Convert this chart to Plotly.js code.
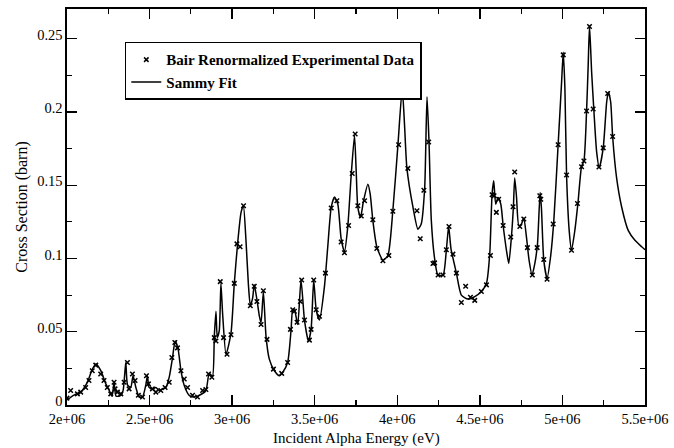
<!DOCTYPE html>
<html>
<head>
<meta charset="utf-8">
<script src="https://cdn.plot.ly/plotly-3.0.1.min.js"></script>
<style>html,body{margin:0;padding:0;background:#fff;}#chart{width:674px;height:448px;}</style>
</head>
<body>
<div id="chart"></div>
<script>
// Sammy fit curve (energy in eV, cross section in barn)
const fitEnergy = [
2000000,2042000,2083000,2123000,2153000,2176000,2204000,2235000,2255000,2273000,
2285000,2297000,2326000,2340000,2356000,2367000,2386000,2400000,2417000,2437000,
2457000,2477000,2487000,2497000,2517000,2538000,2558000,2578000,2599000,2619000,
2639000,2655000,2673000,2690000,2710000,2740000,2770000,2801000,2841000,2861000,
2881000,2892000,2902000,2910000,2922000,2932000,2942000,2963000,2993000,3013000,
3033000,3054000,3068000,3084000,3098000,3110000,3124000,3134000,3150000,3165000,
3175000,3189000,3205000,3225000,3256000,3286000,3306000,3336000,3357000,3367000,
3377000,3397000,3417000,3438000,3462000,3478000,3494000,3509000,3529000,3559000,
3579000,3600000,3620000,3640000,3660000,3680000,3700000,3721000,3741000,3751000,
3761000,3777000,3795000,3822000,3836000,3852000,3876000,3913000,3943000,3973000,
4004000,4030000,4044000,4058000,4095000,4125000,4145000,4166000,4180000,4192000,
4206000,4226000,4246000,4277000,4297000,4311000,4325000,4358000,4388000,4428000,
4469000,4509000,4540000,4560000,4574000,4584000,4596000,4610000,4627000,4641000,
4661000,4675000,4691000,4703000,4711000,4722000,4736000,4752000,4766000,4782000,
4798000,4816000,4833000,4849000,4865000,4873000,4887000,4907000,4928000,4948000,
4974000,4995000,5005000,5015000,5025000,5041000,5055000,5075000,5095000,5116000,
5130000,5146000,5156000,5164000,5177000,5191000,5207000,5223000,5247000,5268000,
5278000,5292000,5304000,5328000,5359000,5399000,5439000,5480000,5500000
];
const fitSigma = [
0.0034,0.0068,0.0088,0.0155,0.0243,0.0280,0.0236,0.0144,0.0101,0.0060,
0.0155,0.0060,0.0066,0.0100,0.0290,0.0135,0.0120,0.0200,0.0120,0.0054,
0.0054,0.0135,0.0200,0.0120,0.0108,0.0120,0.0100,0.0110,0.0120,0.0190,
0.0324,0.0437,0.0380,0.0234,0.0133,0.0066,0.0054,0.0066,0.0099,0.0216,
0.0196,0.0470,0.0640,0.0460,0.0507,0.0830,0.0630,0.0347,0.0490,0.0830,
0.1100,0.1315,0.1360,0.1120,0.0830,0.0680,0.0730,0.0820,0.0720,0.0606,
0.0560,0.0775,0.0470,0.0313,0.0234,0.0200,0.0223,0.0290,0.0516,0.0650,
0.0650,0.0550,0.0853,0.0580,0.0437,0.0516,0.0853,0.0650,0.0580,0.0810,
0.1080,0.1350,0.1420,0.1370,0.1135,0.1045,0.1214,0.1570,0.1840,0.1600,
0.1350,0.1280,0.1390,0.1507,0.1440,0.1260,0.1080,0.0989,0.1020,0.1326,
0.1777,0.2160,0.1910,0.1620,0.1350,0.1200,0.1236,0.1485,0.2104,0.1800,
0.1260,0.1000,0.0887,0.0887,0.1056,0.1218,0.1068,0.0900,0.0750,0.0723,
0.0740,0.0775,0.0830,0.1034,0.1440,0.1530,0.1370,0.1417,0.1370,0.1225,
0.1056,0.0966,0.1147,0.1350,0.1550,0.1420,0.1225,0.1236,0.1277,0.1147,
0.0989,0.0887,0.0966,0.1100,0.1450,0.1340,0.0989,0.0865,0.1010,0.1260,
0.1777,0.2205,0.2408,0.2160,0.1570,0.1190,0.1056,0.1190,0.1390,0.1630,
0.1665,0.2000,0.2320,0.2588,0.2270,0.2000,0.1730,0.1620,0.1755,0.2070,
0.2137,0.2070,0.1833,0.1550,0.1350,0.1190,0.1124,0.1080,0.1060
];
// Bair renormalized experimental data
const expEnergy = [
2000000,2022000,2063000,2083000,2113000,2133000,2153000,2174000,2204000,2224000,
2244000,2265000,2285000,2291000,2305000,2326000,2346000,2366000,2376000,2396000,
2412000,2432000,2457000,2481000,2493000,2517000,2538000,2568000,2594000,2619000,
2635000,2653000,2669000,2690000,2710000,2730000,2760000,2790000,2821000,2841000,
2857000,2877000,2892000,2902000,2928000,2948000,2969000,2993000,3013000,3029000,
3048000,3069000,3110000,3134000,3150000,3175000,3189000,3211000,3250000,3300000,
3336000,3353000,3367000,3377000,3393000,3413000,3421000,3438000,3468000,3478000,
3494000,3509000,3529000,3565000,3600000,3634000,3660000,3680000,3705000,3727000,
3745000,3761000,3782000,3802000,3852000,3876000,3913000,3949000,3973000,4008000,
4034000,4064000,4119000,4139000,4161000,4190000,4216000,4226000,4247000,4277000,
4297000,4313000,4337000,4358000,4388000,4414000,4443000,4469000,4509000,4540000,
4564000,4574000,4586000,4600000,4614000,4641000,4687000,4701000,4711000,4742000,
4766000,4788000,4818000,4847000,4863000,4869000,4887000,4907000,4944000,4974000,
5005000,5025000,5055000,5091000,5116000,5130000,5146000,5164000,5186000,5221000,
5247000,5274000,5304000
];
const expSigma = [
0.0047,0.0099,0.0076,0.0088,0.0120,0.0167,0.0234,0.0272,0.0212,0.0167,
0.0120,0.0076,0.0155,0.0110,0.0088,0.0076,0.0155,0.0290,0.0110,0.0212,
0.0167,0.0066,0.0054,0.0200,0.0144,0.0110,0.0088,0.0099,0.0120,0.0155,
0.0324,0.0426,0.0390,0.0234,0.0178,0.0120,0.0066,0.0054,0.0099,0.0106,
0.0212,0.0190,0.0460,0.0437,0.0842,0.0460,0.0347,0.0480,0.0830,0.1100,
0.1080,0.1360,0.0678,0.0810,0.0707,0.0550,0.0780,0.0448,0.0245,0.0216,
0.0290,0.0516,0.0650,0.0640,0.0565,0.0707,0.0853,0.0580,0.0443,0.0516,
0.0853,0.0650,0.0606,0.0900,0.1345,0.1394,0.1113,0.1039,0.1225,0.1580,
0.1850,0.1360,0.1290,0.1394,0.1264,0.1068,0.0984,0.1020,0.1322,0.1777,
0.2170,0.1615,0.1326,0.1135,0.1466,0.1795,0.0966,0.0970,0.0887,0.0887,
0.1060,0.1218,0.1030,0.0900,0.0700,0.0810,0.0736,0.0714,0.0775,0.0820,
0.1020,0.1435,0.1428,0.1315,0.1405,0.1225,0.1147,0.1353,0.1590,0.1218,
0.1270,0.1074,0.0887,0.1074,0.1428,0.1405,0.0993,0.0858,0.1236,0.1777,
0.2390,0.1570,0.1056,0.1376,0.1626,0.1665,0.2007,0.2583,0.2020,0.1624,
0.1755,0.2126,0.1833
];
const xTickVals = [2000000,2500000,3000000,3500000,4000000,4500000,5000000,5500000];
const xTickText = ["2e+06","2.5e+06","3e+06","3.5e+06","4e+06","4.5e+06","5e+06","5.5e+06"];
const yTickVals = [0,0.05,0.1,0.15,0.2,0.25];
const yTickText = ["0","0.05","0.1","0.15","0.2","0.25"];
const xTitle = "Incident Alpha Energy (eV)";
const yTitle = "Cross Section (barn)";

const serif = "Liberation Serif";
const tickFont = {family: serif, size: 14.5, color: "#000"};
const titleFont = {family: serif, size: 16, color: "#000"};

const traces = [
  {x: expEnergy, y: expSigma, mode: "markers", type: "scatter",
   name: "<b>Bair Renormalized Experimental Data</b>",
   marker: {symbol: "x-thin-open", size: 4.5, color: "#000", line: {color: "#000", width: 1.5}}},
  {x: fitEnergy, y: fitSigma, mode: "lines", type: "scatter",
   name: "<b>Sammy Fit</b>",
   line: {color: "#000", width: 1.5, shape: "spline", smoothing: 0.6}}
];

const axisCommon = {
  showgrid: false, zeroline: false, showline: true, linecolor: "#000", linewidth: 1.6,
  mirror: "ticks", ticks: "inside", ticklen: 10, tickwidth: 1.4, tickcolor: "#000",
  tickfont: tickFont
};

const layout = {
  width: 674, height: 448,
  margin: {l: 67, r: 29, t: 9, b: 43},
  paper_bgcolor: "#fff", plot_bgcolor: "#fff",
  font: tickFont,
  showlegend: true,
  legend: {x: 0.1, y: 0.917, xanchor: "left", yanchor: "top",
           bgcolor: "#fff", bordercolor: "#000", borderwidth: 1.5,
           font: {family: serif, size: 15, color: "#000"},
           tracegroupgap: 0, itemwidth: 30, entrywidth: 285},
  xaxis: Object.assign({}, axisCommon, {
    range: [2000000, 5500000],
    tickmode: "array", tickvals: xTickVals, ticktext: xTickText,
    minor: {dtick: 250000, ticks: "inside", ticklen: 5, tickwidth: 1.2, tickcolor: "#000"}
  }),
  yaxis: Object.assign({}, axisCommon, {
    range: [0, 0.2703],
    tickmode: "array", tickvals: yTickVals, ticktext: yTickText,
    ticklabelshift: -4,
    minor: {dtick: 0.025, ticks: "inside", ticklen: 5, tickwidth: 1.2, tickcolor: "#000"},
    title: {text: yTitle, font: titleFont, standoff: 5}
  }),
  annotations: [
    {text: xTitle, xref: "paper", yref: "paper", x: 0.5, y: -0.1083,
     xanchor: "center", yanchor: "bottom", showarrow: false, borderpad: 0,
     font: {family: serif, size: 15, color: "#000"}}
  ]
};

Plotly.newPlot("chart", traces, layout, {displayModeBar: false, staticPlot: true});
</script>
</body>
</html>
